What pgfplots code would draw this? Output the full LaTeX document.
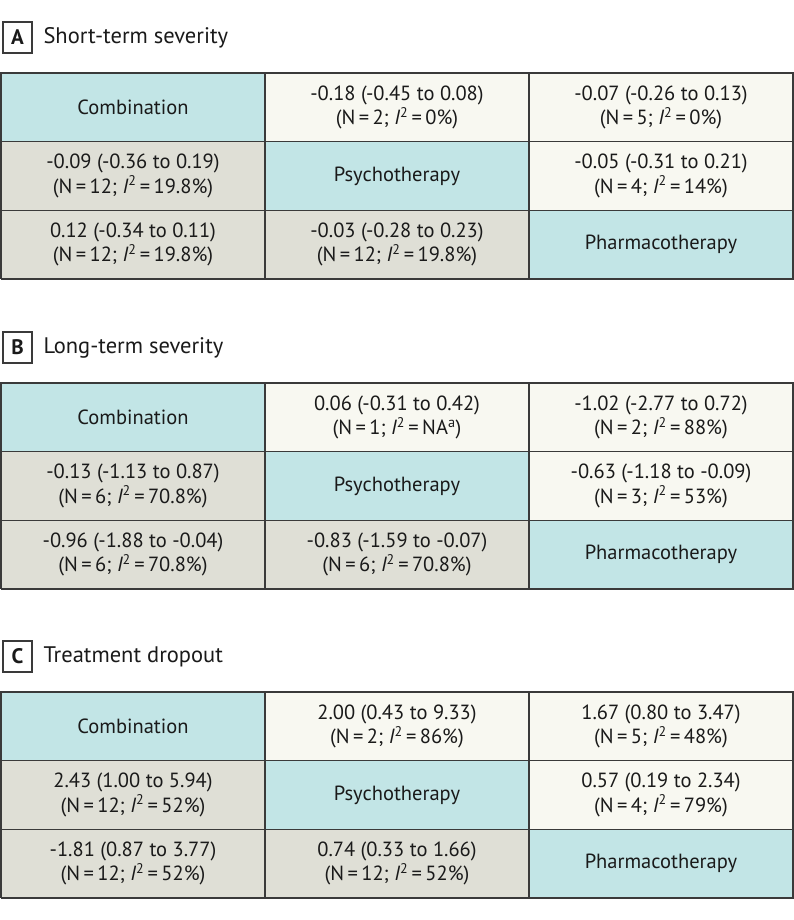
\documentclass[border=0pt]{standalone}
\usepackage{pgfplots}
\pgfplotsset{compat=1.18}
\usepackage{fontspec}
\setmainfont{PT Sans}
\definecolor{diag}{HTML}{C2E5E6}
\definecolor{lower}{HTML}{DFDFD6}
\definecolor{upper}{HTML}{F8F8F1}
\definecolor{bord}{HTML}{3A3A3A}
\definecolor{txt}{HTML}{1A1A1A}
\tikzset{ct/.style={font=\fontsize{20.5}{24.5}\selectfont, align=center, text=txt}}
\newcommand{\cell}[3]{\addplot[fill=#3,draw=bord,line width=1.2pt] coordinates {(#1,#2) (#1+1,#2) (#1+1,#2+1) (#1,#2+1) (#1,#2)};}
\newcommand{\Isq}[1]{{\itshape I}\textsuperscript{\fontsize{14}{14}\selectfont 2}\,=\,#1}
\newcommand{\NN}[1]{N\,=\,#1}
\newcommand{\grid}{%
  \cell{0}{2}{diag}\cell{1}{2}{upper}\cell{2}{2}{upper}%
  \cell{0}{1}{lower}\cell{1}{1}{diag}\cell{2}{1}{upper}%
  \cell{0}{0}{lower}\cell{1}{0}{lower}\cell{2}{0}{diag}%
  \node[ct] at (axis cs:0.5,2.5) {Combination};%
  \node[ct] at (axis cs:1.5,1.5) {Psychotherapy};%
  \node[ct] at (axis cs:2.5,0.5) {Pharmacotherapy};}
\pgfplotsset{leaguetab/.style={scale only axis, width=792pt, height=206pt, xmin=0, xmax=3, ymin=0, ymax=3, hide axis, clip=false, anchor=south west}}
\begin{document}
\begin{tikzpicture}
\useasboundingbox (0pt,0pt) rectangle (794pt,920pt);
% Panel titles
\draw[bord,line width=1.2pt] (3pt,898pt) rectangle (32pt,867pt);
\node[font=\fontsize{21}{22}\selectfont\bfseries,text=txt] at (17.5pt,882.5pt) {A};
\node[font=\fontsize{22.5}{24}\selectfont,text=txt,anchor=west] at (40pt,882pt) {Short-term severity};
\draw[bord,line width=1.2pt] (3pt,588pt) rectangle (32pt,557pt);
\node[font=\fontsize{21}{22}\selectfont\bfseries,text=txt] at (17.5pt,572.5pt) {B};
\node[font=\fontsize{22.5}{24}\selectfont,text=txt,anchor=west] at (40pt,572pt) {Long-term severity};
\draw[bord,line width=1.2pt] (3pt,279pt) rectangle (32pt,248pt);
\node[font=\fontsize{21}{22}\selectfont\bfseries,text=txt] at (17.5pt,263.5pt) {C};
\node[font=\fontsize{22.5}{24}\selectfont,text=txt,anchor=west] at (40pt,263pt) {Treatment dropout};
% Panel A
\begin{axis}[leaguetab, at={(1pt,641pt)}]
\grid
\node[ct] at (axis cs:1.5,2.5) {-0.18 (-0.45 to 0.08)\\(\NN{2}; \Isq{0\%})};
\node[ct] at (axis cs:2.5,2.5) {-0.07 (-0.26 to 0.13)\\(\NN{5}; \Isq{0\%})};
\node[ct] at (axis cs:0.5,1.5) {-0.09 (-0.36 to 0.19)\\(\NN{12}; \Isq{19.8\%})};
\node[ct] at (axis cs:2.5,1.5) {-0.05 (-0.31 to 0.21)\\(\NN{4}; \Isq{14\%})};
\node[ct] at (axis cs:0.5,0.5) {0.12 (-0.34 to 0.11)\\(\NN{12}; \Isq{19.8\%})};
\node[ct] at (axis cs:1.5,0.5) {-0.03 (-0.28 to 0.23)\\(\NN{12}; \Isq{19.8\%})};
\end{axis}
% Panel B
\begin{axis}[leaguetab, at={(1pt,331pt)}]
\grid
\node[ct] at (axis cs:1.5,2.5) {0.06 (-0.31 to 0.42)\\(\NN{1}; \Isq{NA\textsuperscript{a}})};
\node[ct] at (axis cs:2.5,2.5) {-1.02 (-2.77 to 0.72)\\(\NN{2}; \Isq{88\%})};
\node[ct] at (axis cs:0.5,1.5) {-0.13 (-1.13 to 0.87)\\(\NN{6}; \Isq{70.8\%})};
\node[ct] at (axis cs:2.5,1.5) {-0.63 (-1.18 to -0.09)\\(\NN{3}; \Isq{53\%})};
\node[ct] at (axis cs:0.5,0.5) {-0.96 (-1.88 to -0.04)\\(\NN{6}; \Isq{70.8\%})};
\node[ct] at (axis cs:1.5,0.5) {-0.83 (-1.59 to -0.07)\\(\NN{6}; \Isq{70.8\%})};
\end{axis}
% Panel C
\begin{axis}[leaguetab, at={(1pt,22pt)}]
\grid
\node[ct] at (axis cs:1.5,2.5) {2.00 (0.43 to 9.33)\\(\NN{2}; \Isq{86\%})};
\node[ct] at (axis cs:2.5,2.5) {1.67 (0.80 to 3.47)\\(\NN{5}; \Isq{48\%})};
\node[ct] at (axis cs:0.5,1.5) {2.43 (1.00 to 5.94)\\(\NN{12}; \Isq{52\%})};
\node[ct] at (axis cs:2.5,1.5) {0.57 (0.19 to 2.34)\\(\NN{4}; \Isq{79\%})};
\node[ct] at (axis cs:0.5,0.5) {-1.81 (0.87 to 3.77)\\(\NN{12}; \Isq{52\%})};
\node[ct] at (axis cs:1.5,0.5) {0.74 (0.33 to 1.66)\\(\NN{12}; \Isq{52\%})};
\end{axis}
\end{tikzpicture}
\end{document}
